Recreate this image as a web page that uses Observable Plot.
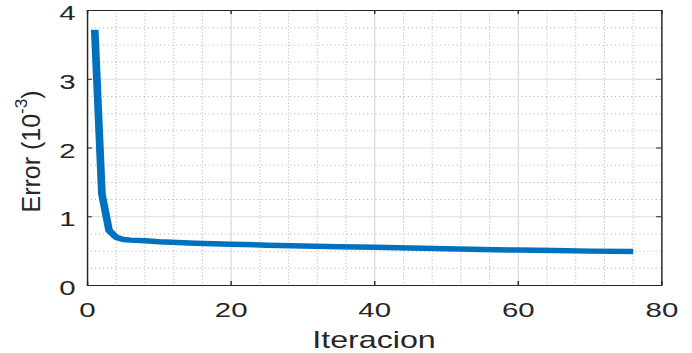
<!DOCTYPE html>
<html><head><meta charset="utf-8">
<script src="https://cdn.jsdelivr.net/npm/d3@7"></script>
<script src="https://cdn.jsdelivr.net/npm/@observablehq/plot@0.6"></script>
<style>body{margin:0;background:#fff;} svg{display:block}</style>
</head><body><div id="chart"></div>
<script>
// ---- data ----
const iteracion = [1, 2, 3, 4, 5, 6, 8, 10, 15, 20, 25, 30, 35, 40, 45, 50, 55, 60, 65, 70, 76];
const errorVals = [3.72, 1.33, 0.80, 0.70, 0.67, 0.66, 0.65, 0.635, 0.615, 0.60, 0.587, 0.575, 0.565, 0.555, 0.545, 0.535, 0.525, 0.515, 0.508, 0.50, 0.493];
const xMajor = [0, 20, 40, 60, 80];
const yMajor = [0, 1, 2, 3, 4];
const xMinor = [4, 8, 12, 16, 24, 28, 32, 36, 44, 48, 52, 56, 64, 68, 72, 76];
const yMinor = [0.25, 0.5, 0.75, 1.25, 1.5, 1.75, 2.25, 2.5, 2.75, 3.25, 3.5, 3.75];
const xLabel = "Iteracion";
const yLabelMain = "Error (10";
const yLabelSup = "-3";
const yLabelEnd = ")";

// ---- layout ----
const OUT_W = 692, H = 353;
const W = 494;                 // internal width, stretched horizontally to 692
const S = OUT_W / W;
const mL = 62, mR = 22, mT = 10, mB = 68;
const plotW = W - mL - mR, plotH = H - mT - mB;
const ink = "#262626";

const data = iteracion.map((x, i) => ({x, y: errorVals[i]}));

const plot = Plot.plot({
  width: W, height: H,
  marginLeft: mL, marginRight: mR, marginTop: mT, marginBottom: mB,
  x: {domain: [0, 80]},
  y: {domain: [0, 4]},
  style: {fontFamily: "'Liberation Sans', Arial, sans-serif", color: ink, background: "#fff", overflow: "visible"},
  marks: [
    Plot.ruleX(xMinor, {stroke: "#b8b8b8", strokeDasharray: "1,2.2", strokeWidth: 0.8}),
    Plot.ruleY(yMinor, {stroke: "#b8b8b8", strokeDasharray: "0.8,2.1", strokeWidth: 1}),
    Plot.ruleX(xMajor, {stroke: "#dedede", strokeWidth: 1}),
    Plot.ruleY(yMajor, {stroke: "#dedede", strokeWidth: 1}),
    Plot.axisX({ticks: xMajor, tickFormat: d3.format("d"), tickSize: 0, tickPadding: 17, fontSize: 21, label: null}),
    Plot.axisY({ticks: yMajor, tickFormat: d3.format("d"), tickSize: 0, tickPadding: 8.5, fontSize: 21, dy: 3, label: null}),
    Plot.tickX(xMajor, {x: d => d, stroke: ink, insetTop: plotH - 4}),
    Plot.tickX(xMajor, {x: d => d, stroke: ink, insetBottom: plotH - 4}),
    Plot.tickY(yMajor, {y: d => d, stroke: ink, insetRight: plotW - 3.6}),
    Plot.tickY(yMajor, {y: d => d, stroke: ink, insetLeft: plotW - 3.6}),
    Plot.line(data, {x: "x", y: "y", stroke: "#0072BD", strokeWidth: 5.5, strokeLinecap: "butt", strokeLinejoin: "round"}),
    Plot.frame({stroke: ink, strokeWidth: 1})
  ]
});

plot.setAttribute("width", OUT_W);
plot.setAttribute("height", H);
plot.setAttribute("viewBox", `0 0 ${W} ${H}`);
plot.setAttribute("preserveAspectRatio", "none");
plot.style.width = OUT_W + "px";
plot.style.height = H + "px";
plot.style.maxWidth = "none";

const svg = d3.select(plot);
svg.append("text")
  .attr("x", mL + plotW / 2).attr("y", 348)
  .attr("text-anchor", "middle").attr("font-size", 23).attr("fill", ink)
  .text(xLabel);

const yl = svg.append("text")
  .attr("transform", `translate(${40 / S},${151.5}) scale(${1 / S},1) rotate(-90)`)
  .attr("text-anchor", "middle").attr("font-size", 25).attr("fill", ink);
yl.append("tspan").text(yLabelMain);
yl.append("tspan").attr("dy", -13).attr("font-size", 17).text(yLabelSup);
yl.append("tspan").attr("dy", 13).text(yLabelEnd);

document.getElementById("chart").appendChild(plot);
</script>
</body></html>
